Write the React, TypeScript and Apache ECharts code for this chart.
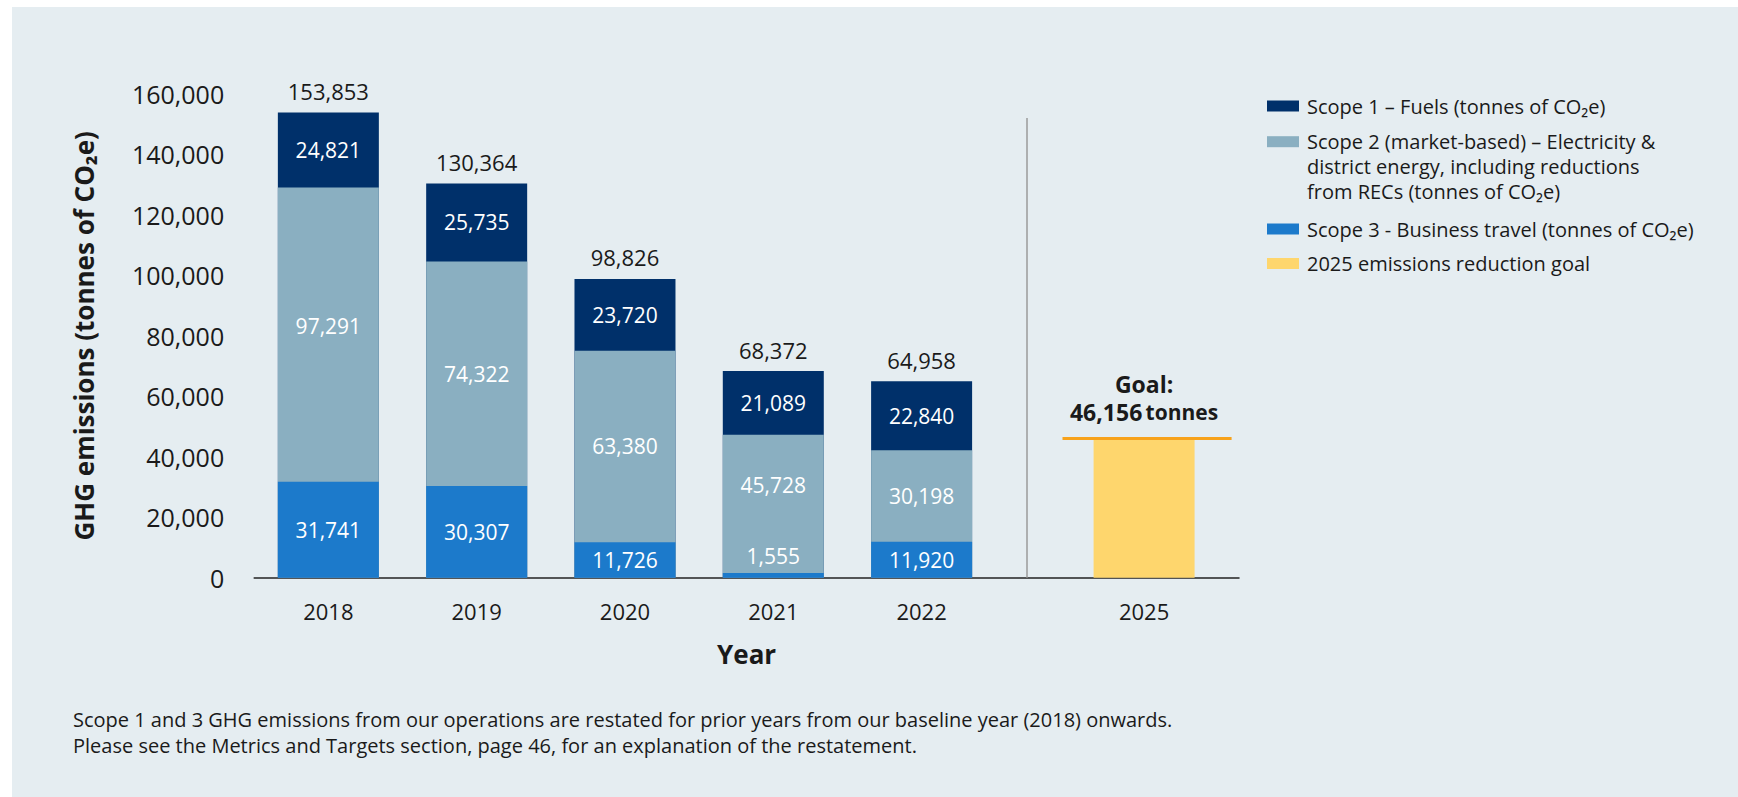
import React, { useEffect, useRef } from "react";
import * as echarts from "echarts";

const years = ["2018", "2019", "2020", "2021", "2022"];
const goalYear = "2025";
const scope1 = [24821, 25735, 23720, 21089, 22840];
const scope2 = [97291, 74322, 63380, 45728, 30198];
const scope3 = [31741, 30307, 11726, 1555, 11920];
const totals = [153853, 130364, 98826, 68372, 64958];
const goalValue = 46156;

const legendNames = [
  "Scope 1 \u2013 Fuels (tonnes of CO\u2082e)",
  "Scope 2 (market-based) \u2013 Electricity &\ndistrict energy, including reductions\nfrom RECs (tonnes of CO\u2082e)",
  "Scope 3 - Business travel (tonnes of CO\u2082e)",
  "2025 emissions reduction goal",
];
const footnote = [
  "Scope 1 and 3 GHG emissions from our operations are restated for prior years from our baseline year (2018) onwards.",
  "Please see the Metrics and Targets section, page 46, for an explanation of the restatement.",
];

const C1 = "#00306a";
const C2 = "#8aafc1";
const C3 = "#1c7acb";
const CG = "#fed66d";
const CO = "#f7a21b";
const FONT = "'Open Sans', 'Noto Sans', 'DejaVu Sans', sans-serif";
const TXT = "#1a1a1a";

const fmt = (v: number) => v.toLocaleString("en-US");

export default function App() {
  const ref = useRef<HTMLDivElement>(null);
  useEffect(() => {
    if (!ref.current) return;
    const chart = echarts.init(ref.current, undefined, { renderer: "svg" });
    const goalPos = years.length + 0.5;
    const sepPos = 4.71;
    const BW = 101;

    // cumulative tops of the stacked segments (drawn as overlapping bars)
    const top3 = scope3.map((v) => v);
    const top2 = scope3.map((v, i) => v + scope2[i]);
    const top1 = scope3.map((v, i) => v + scope2[i] + scope1[i]);

    const barBase = { type: "bar", barWidth: BW, barGap: "-100%", silent: true };
    const labelFont = { color: "#fff", fontSize: 21, fontFamily: FONT, opacity: 1 };
    const scatterBase = {
      type: "scatter",
      symbol: "circle",
      symbolSize: 1,
      itemStyle: { color: "rgba(0,0,0,0)", opacity: 1 },
      silent: true,
      z: 5,
    };

    const s3Labels = scope3.map((v, i) => {
      if (v < 5000) {
        return { value: [i, top3[i]], label: { position: "top", distance: 6 } };
      }
      return { value: [i, top3[i] - v / 2] };
    });
    const s2Labels = scope2.map((v, i) => {
      const d: any = { value: [i, top2[i] - v / 2] };
      if (i === 0) d.label = { offset: [0, -9] };
      if (scope3[i] < 5000) d.label = { offset: [0, -19] };
      return d;
    });
    const s1Labels = scope1.map((v, i) => ({ value: [i, top1[i] - v / 2] }));
    const totLabels = totals.map((t, i) => ({ value: [i, top1[i]] }));

    const legendRows = [
      { color: C1, y: 106 },
      { color: C2, y: 141.7 },
      { color: C3, y: 229 },
      { color: CG, y: 263.5 },
    ];
    const graphics: any[] = [
      { type: "rect", shape: { x: 0, y: 0, width: 12, height: 797 }, style: { fill: "#fff" }, silent: true },
      { type: "rect", shape: { x: 0, y: 0, width: 1738, height: 7 }, style: { fill: "#fff" }, silent: true },
    ];
    legendRows.forEach((r, i) => {
      graphics.push({ type: "rect", shape: { x: 1267, y: r.y - 5.5, width: 32, height: 11 }, style: { fill: r.color }, silent: true });
      graphics.push({
        type: "text",
        x: 1307,
        y: r.y - 12.5,
        style: { text: legendNames[i], fill: TXT, fontSize: 20, fontFamily: FONT, lineHeight: 25, verticalAlign: "top", align: "left" },
        silent: true,
      });
    });
    footnote.forEach((t, i) => {
      graphics.push({
        type: "text",
        x: 73,
        y: 719.5 + i * 25.5,
        style: { text: t, fill: TXT, fontSize: 20, fontFamily: FONT, verticalAlign: "middle", align: "left" },
        silent: true,
      });
    });

    chart.setOption({
      animation: false,
      backgroundColor: "#e5edf1",
      grid: { left: 254.2, right: 499, top: 94, bottom: 219.3, containLabel: false },
      xAxis: {
        type: "value",
        min: -0.5,
        max: 6.14,
        interval: 0.5,
        name: "Year",
        nameLocation: "middle",
        nameGap: 63,
        nameTextStyle: { fontSize: 26, fontWeight: "bold", color: TXT, fontFamily: FONT },
        axisLine: { show: true, lineStyle: { color: "#222", width: 1.5 } },
        axisTick: { show: false },
        splitLine: { show: false },
        axisLabel: {
          fontSize: 22,
          color: TXT,
          fontFamily: FONT,
          margin: 22,
          formatter: (v: number) => {
            if (Number.isInteger(v) && v >= 0 && v < years.length) return years[v];
            if (Math.abs(v - goalPos) < 1e-6) return goalYear;
            return "";
          },
        },
      },
      yAxis: {
        type: "value",
        min: 0,
        max: 160000,
        interval: 20000,
        name: "GHG emissions (tonnes of CO\u2082e)",
        nameLocation: "middle",
        nameGap: 157,
        nameTextStyle: { fontSize: 26, fontWeight: "bold", color: TXT, fontFamily: FONT },
        axisLine: { show: false },
        axisTick: { show: false },
        splitLine: { show: false },
        axisLabel: { fontSize: 25, color: TXT, fontFamily: FONT, margin: 30, formatter: (v: number) => fmt(v) },
      },
      series: [
        { ...barBase, name: "Scope 1", itemStyle: { color: C1 }, data: top1.map((v, i) => [i, v]) },
        { ...barBase, name: "Scope 2", itemStyle: { color: C2 }, data: top2.map((v, i) => [i, v]) },
        { ...barBase, name: "Scope 3", itemStyle: { color: C3 }, data: top3.map((v, i) => [i, v]) },
        {
          ...barBase,
          name: "Goal",
          itemStyle: { color: CG },
          label: {
            show: true,
            position: "top",
            distance: 12,
            formatter: () => `{g|Goal:}\n{n|${fmt(goalValue)}} {t|tonnes}`,
            rich: {
              g: { fontSize: 23, fontWeight: "bold", color: TXT, fontFamily: FONT, lineHeight: 28, align: "center" },
              n: { fontSize: 23, fontWeight: "bold", color: TXT, fontFamily: FONT, lineHeight: 28 },
              t: { fontSize: 21, fontWeight: "bold", color: TXT, fontFamily: FONT, lineHeight: 28 },
            },
          },
          data: [[goalPos, goalValue]],
          markLine: {
            silent: true,
            symbol: "none",
            label: { show: false },
            data: [
              [
                { coord: [4.95, goalValue], lineStyle: { color: CO, width: 3, type: "solid" } },
                { coord: [6.09, goalValue] },
              ],
              [
                { coord: [sepPos, 0], lineStyle: { color: "#9a9a9a", width: 1.5, type: "solid" } },
                { coord: [sepPos, 152100] },
              ],
            ],
          },
        },
        {
          ...scatterBase,
          name: "Scope 3 labels",
          label: { show: true, position: "inside", ...labelFont, formatter: (p: any) => fmt(scope3[p.dataIndex]) },
          data: s3Labels,
        },
        {
          ...scatterBase,
          name: "Scope 2 labels",
          label: { show: true, position: "inside", ...labelFont, formatter: (p: any) => fmt(scope2[p.dataIndex]) },
          data: s2Labels,
        },
        {
          ...scatterBase,
          name: "Scope 1 labels",
          label: { show: true, position: "inside", ...labelFont, formatter: (p: any) => fmt(scope1[p.dataIndex]) },
          data: s1Labels,
        },
        {
          ...scatterBase,
          name: "Total labels",
          label: {
            show: true,
            position: "top",
            distance: 10,
            color: TXT,
            opacity: 1,
            fontSize: 22,
            fontFamily: FONT,
            formatter: (p: any) => fmt(totals[p.dataIndex]),
          },
          data: totLabels,
        },
      ],
      graphic: graphics,
    });
    return () => chart.dispose();
  }, []);
  return <div ref={ref} style={{ position: "fixed", left: 0, top: 0, width: 1738, height: 797 }} />;
}
